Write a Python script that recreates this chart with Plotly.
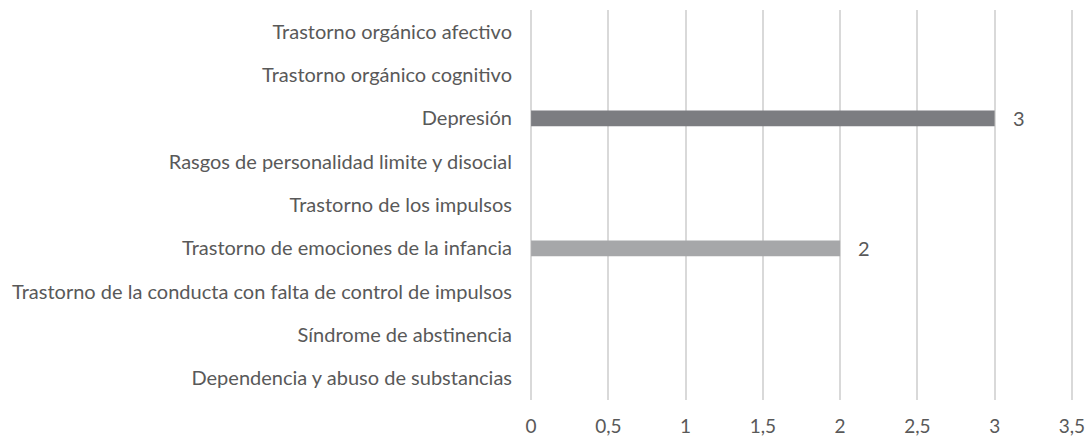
import plotly.graph_objects as go

categories = [
    'Dependencia y abuso de substancias',
    'Síndrome de abstinencia',
    'Trastorno de la conducta con falta de control de impulsos',
    'Trastorno de emociones de la infancia',
    'Trastorno de los impulsos',
    'Rasgos de personalidad limite y disocial',
    'Depresión',
    'Trastorno orgánico cognitivo',
    'Trastorno orgánico afectivo',
]
values = [0, 0, 0, 2, 0, 0, 3, 0, 0]
bar_colors = ['#a5a5a5', '#a5a5a5', '#a5a5a5', '#a6a7a9', '#a5a5a5',
              '#a5a5a5', '#7c7d81', '#7c7d81', '#7c7d81']
tick_vals = [0, 0.5, 1, 1.5, 2, 2.5, 3, 3.5]
tick_text = ['0', '0,5', '1', '1,5', '2', '2,5', '3', '3,5']

font = 'Lato, Open Sans, sans-serif'
txt_color = '#595959'

fig = go.Figure()
fig.add_trace(go.Bar(
    y=categories, x=values, orientation='h',
    marker=dict(color=bar_colors, line=dict(width=0)),
    width=0.36,
))

for c, v in zip(categories, values):
    if v:
        fig.add_annotation(x=v, y=c, text=str(v), showarrow=False,
                           xanchor='left', xshift=16,
                           font=dict(family=font, size=20, color=txt_color))

fig.update_layout(
    width=1089, height=442,
    margin=dict(l=528, r=14, t=10, b=42),
    plot_bgcolor='white', paper_bgcolor='white',
    showlegend=False,
    font=dict(family=font, size=20, color=txt_color),
    # small padding so plotly still draws the gridlines at 0 and 3,5
    xaxis=dict(range=[-0.02, 3.52], tickvals=tick_vals, ticktext=tick_text,
               showgrid=True, gridcolor='#d9d9d9', gridwidth=2,
               zeroline=False, showline=False, automargin=False,
               tickfont=dict(size=19), ticks='', ticklen=0,
               ticklabelstandoff=13),
    yaxis=dict(showgrid=False, zeroline=False, showline=False,
               ticks='', ticklabelstandoff=15, automargin=False),
)

fig.write_html('out.html', config={'displayModeBar': False},
               post_script="document.body.style.margin='0';")
